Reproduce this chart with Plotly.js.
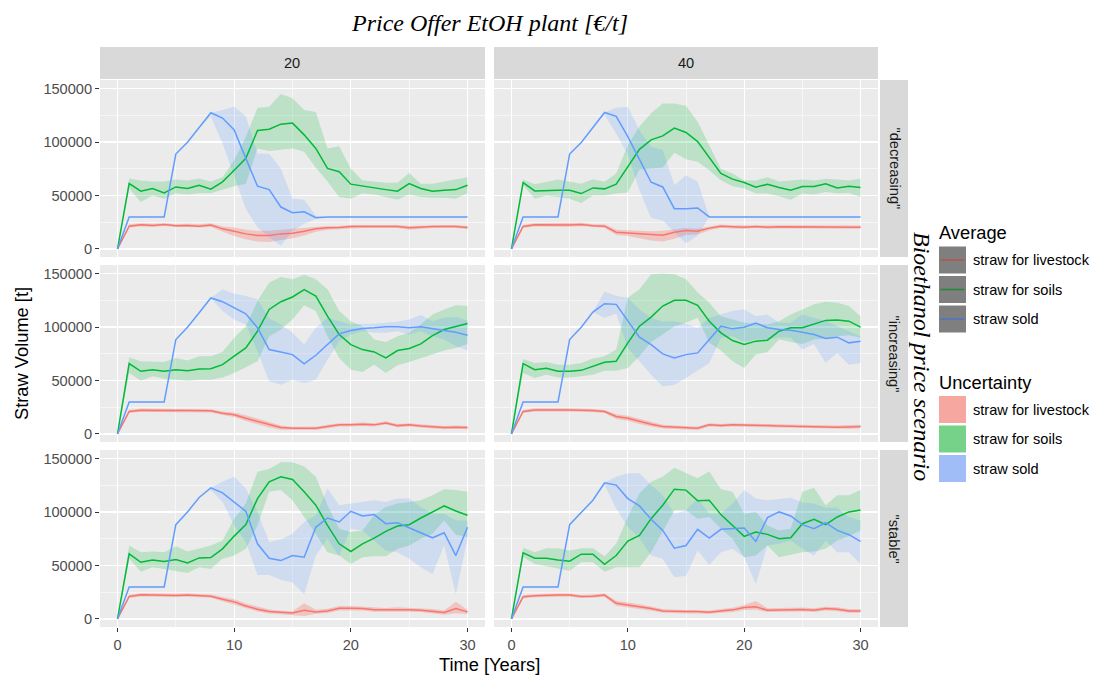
<!DOCTYPE html>
<html>
<head>
<meta charset="utf-8">
<script src="https://cdn.plot.ly/plotly-3.0.1.min.js"></script>
<style>html,body{margin:0;padding:0;background:#fff;}#chart{width:1096px;height:677px;}</style>
</head>
<body>
<div id="chart"></div>
<script>
// ---------------- DATA ----------------
const years = [0,1,2,3,4,5,6,7,8,9,10,11,12,13,14,15,16,17,18,19,20,21,22,23,24,25,26,27,28,29,30];
const priceOffers = ["20", "40"];
const scenarios = ['"decreasing"', '"increasing"', '"stable"'];
const seriesNames = ["straw for livestock", "straw for soils", "straw sold"];
const yTicks = [0, 50000, 100000, 150000];
const xTicks = [0, 10, 20, 30];

// decreasing / 20
const dec20_live    = [0,21300,22600,22000,22900,21700,22000,21300,22300,18800,16600,14100,12600,12600,14100,14700,16600,18800,19800,20000,21000,21000,21000,21000,21000,19800,20700,21000,21000,21000,20000];
const dec20_live_hi = [0,23000,24000,23500,24000,23000,23500,23000,24000,21000,20000,18000,17000,17000,18000,19000,19500,21000,21500,21500,22500,22500,22500,22500,22500,21500,22000,22500,22500,22500,21500];
const dec20_live_lo = [0,20000,21000,20500,21500,20500,20500,20000,20500,16000,12000,9000,7000,6500,8000,10000,12500,16000,18000,18500,19500,19500,19500,19500,19500,18000,19000,19500,19500,19500,18500];
const dec20_soil    = [0,61200,54000,56500,52400,58000,56500,59600,55900,62800,73700,84700,110800,112000,116700,117700,106700,94000,75300,72200,60600,58700,57100,55500,54000,61200,56500,54000,55000,55500,59600];
const dec20_soil_hi = [0,66000,64000,63000,63000,65000,64000,66000,63000,67000,83000,105000,132000,133000,145000,141000,130000,128000,94000,96000,75000,64000,63000,62000,62000,71000,61000,61000,63000,65000,67000];
const dec20_soil_lo = [0,56500,44000,50000,47000,52000,51000,52000,52000,55500,58700,61000,94000,91600,92600,94000,91000,76000,63000,48600,47000,52000,51000,48600,46000,51000,48600,48000,48000,47000,52000];
const dec20_sold    = [0,30000,30000,30000,30000,88800,99800,113600,127400,122400,111400,84700,58700,55500,39200,33900,34800,29200,30000,30000,30000,30000,30000,30000,30000,30000,30000,30000,30000,30000,30000];
const dec20_sold_hi = [0,30000,30000,30000,30000,88800,99800,113600,127400,130000,133000,124000,89000,89000,75000,47000,46000,31000,30000,30000,30000,30000,30000,30000,30000,30000,30000,30000,30000,30000,30000];
const dec20_sold_lo = [0,30000,30000,30000,30000,88800,99800,113600,124000,98800,67500,37700,20400,11000,3000,17000,23500,28000,30000,30000,30000,30000,30000,30000,30000,30000,30000,30000,30000,30000,30000];

// decreasing / 40
const dec40_live    = [0,21000,22600,22300,22300,22300,22900,21700,21300,15700,15000,14100,13200,12900,15700,17300,16600,19500,21300,20700,20400,21000,20400,20700,20700,20700,20700,20700,20700,20700,20400];
const dec40_live_hi = [0,22500,24000,24000,23800,23800,24500,23200,23000,18000,17500,17000,16500,17000,18500,19500,19000,21000,22800,22200,22000,22500,22000,22200,22200,22200,22200,22500,22200,22200,22000];
const dec40_live_lo = [0,19500,21000,20800,20800,20800,21300,20200,19800,13000,12000,10000,8000,7000,9500,13000,13500,17500,19800,19200,18800,19500,18800,19200,19200,19200,19200,19000,19200,19200,18800];
const dec40_soil    = [0,62100,54300,54900,54900,54900,51800,57100,56200,60600,76900,93200,102000,105700,113000,108900,100400,85700,70600,65300,62100,57700,60600,57400,54900,58400,58400,60900,57100,58700,57400];
const dec40_soil_hi = [0,65000,60600,62800,65000,62800,61000,65300,62800,70600,97000,114500,127000,136000,136000,134000,119000,97000,75000,70600,64000,64000,67000,63000,64000,65000,64000,65600,65000,64000,66000];
const dec40_soil_lo = [0,59600,47000,50000,48600,47000,43000,50000,50000,51800,52700,74400,75300,76200,90000,83800,81600,73700,64300,58700,56500,51800,51800,49300,46000,51800,51000,53300,51800,52400,48600];
const dec40_sold    = [0,30000,30000,30000,30000,88800,99500,113600,127700,124000,105000,83800,62400,58000,37700,37700,38300,30000,30000,30000,30000,30000,30000,30000,30000,30000,30000,30000,30000,30000,30000];
const dec40_sold_hi = [0,30000,30000,30000,30000,88800,99500,113600,127700,132000,133000,111000,95700,92600,59600,69000,62800,30000,30000,30000,30000,30000,30000,30000,30000,30000,30000,30000,30000,30000,30000];
const dec40_sold_lo = [0,30000,30000,30000,30000,88800,99500,113600,125500,108000,88000,55000,29000,26700,15700,5300,12600,30000,30000,30000,30000,30000,30000,30000,30000,30000,30000,30000,30000,30000,30000];

// increasing / 20
const inc20_live    = [0,21000,22200,21900,22200,21900,21900,21600,21600,19400,17900,14700,11600,8500,6000,5300,5000,5300,6900,8500,8500,9100,8500,10300,7800,8500,7500,6600,6000,6300,6000];
const inc20_live_hi = [0,22500,23700,23400,23700,23400,23400,23100,23100,21000,20000,17500,14500,11000,8000,6800,6500,6800,8500,10000,10000,10700,10000,11800,9300,10000,9000,8100,7500,7800,7500];
const inc20_live_lo = [0,19500,20700,20400,20700,20400,20400,20100,20100,17800,15800,12000,8700,6000,4000,3800,3500,3800,5300,7000,7000,7500,7000,8800,6300,7000,6000,5100,4500,4800,4500];
const inc20_soil    = [0,65800,58600,60100,58600,60100,59200,60800,61100,64800,72700,80500,96100,116500,123700,128100,135000,129000,110200,93000,83600,78900,76700,71100,78000,79900,84200,92000,97700,100800,103300];
const inc20_soil_hi = [0,71700,68000,68000,67300,71000,68600,72700,72700,76700,89900,100800,124300,141600,146900,144700,148800,144700,135300,114900,105500,100800,88300,86100,91400,94600,102400,111800,116500,120300,119600];
const inc20_soil_lo = [0,57000,49800,53900,51700,50700,49800,50700,50700,52900,57000,62300,68000,91400,97700,107100,120300,114900,91400,71100,60100,57900,64800,57000,64200,67300,71100,74200,78000,80500,84200];
const inc20_sold    = [0,30000,30000,30000,30000,88300,99900,113400,127200,123700,118100,112400,99300,78900,76700,74200,65500,73600,83600,93600,96800,98700,99300,100200,100200,99300,100200,98300,96800,95200,92400];
const inc20_sold_hi = [0,30000,30000,30000,30000,88300,99900,113400,127200,135300,131200,129000,125900,108000,102400,94600,83600,99300,108700,105500,102400,103000,103000,104000,104900,107100,111200,105500,108700,109300,106200];
const inc20_sold_lo = [0,30000,30000,30000,30000,88300,99900,113400,127200,115000,107100,102400,77400,49200,46000,50700,47600,50700,69500,86800,93000,96100,94600,94600,96100,93000,96100,91400,88300,82100,78000];

// increasing / 40
const inc40_live    = [0,21000,22500,22200,22500,22500,22500,21900,21000,16300,14700,11600,9100,6900,6300,6000,5300,8500,7800,8500,8500,7800,7800,7500,7200,7500,7200,6600,6300,6600,6900];
const inc40_live_hi = [0,22500,24000,23700,24000,24000,24000,23400,22500,18500,17000,14000,11200,8700,8000,7600,6900,10000,9300,10000,10000,9300,9300,9000,8700,9000,8700,8100,7800,8400,8700];
const inc40_live_lo = [0,19500,21000,20700,21000,21000,21000,20400,19500,14000,12300,9200,7000,5100,4600,4400,3700,7000,6300,7000,7000,6300,6300,6000,5700,6000,5700,5100,4800,4800,5100];
const inc40_soil    = [0,65800,60100,61400,58600,58600,59500,63300,67000,68000,85200,100800,109300,119600,125000,125000,120300,105500,94600,87400,83600,86800,87700,96100,99300,99300,102400,106200,106500,105500,99900];
const inc40_soil_hi = [0,70200,66400,67300,64800,64800,66400,70500,72700,78900,127500,135300,149400,150000,149400,144700,132200,122800,110200,107100,104000,103000,102400,105500,111800,116500,121200,123700,122800,119600,110200];
const inc40_soil_lo = [0,57000,52300,55400,52900,52900,53900,55400,59200,59200,61700,72700,86100,93000,100800,104000,108700,85200,78000,68000,61700,74200,76700,88300,86100,84200,88300,89300,91400,92400,89900];
const inc40_sold    = [0,30000,30000,30000,30000,88300,99900,114000,121800,121200,105500,90500,83600,74900,71100,74200,75800,88300,100800,98300,99900,103700,99300,97700,97100,95200,93000,89300,90500,85200,86800];
const inc40_sold_hi = [0,30000,30000,30000,30000,88300,99900,114000,133000,129000,127500,116500,108700,104900,105500,103000,99300,108700,111800,114900,116500,110200,111800,104000,104000,111800,108700,105500,100800,96100,91400];
const inc40_sold_lo = [0,30000,30000,30000,30000,88300,99900,114000,108700,112400,80500,68000,55400,44500,46000,52300,59200,66400,89900,91400,86100,88300,88300,90500,89900,78900,84200,66700,75800,64800,66400];

// stable / 20
const sta20_live    = [0,21000,22600,22300,22300,22000,22300,21700,21300,18500,16000,12200,9100,6900,6000,5600,8200,6600,7500,10000,10000,9700,8500,8500,9100,8500,8200,7200,6000,9700,6600];
const sta20_live_hi = [0,22500,24100,23800,23800,23500,23800,23200,22800,20500,18500,14500,11500,8800,7700,7200,14700,8500,9500,12000,12000,11500,10300,10300,10900,10300,10000,9200,8000,16000,8500];
const sta20_live_lo = [0,19500,21100,20800,20800,20500,20800,20200,19800,16500,13500,9800,7000,5200,4300,4000,2800,4800,5500,8000,8000,7900,6700,6700,7300,6700,6400,5200,4000,5300,4700];
const sta20_soil    = [0,60900,53000,55200,53700,55500,52400,57100,57400,65600,77500,88200,112600,128300,133000,130500,118900,106400,87500,70300,63100,70300,75600,81900,86900,88200,94400,100100,105700,101000,97000];
const sta20_soil_hi = [0,68700,62400,63100,62400,68100,63100,66200,68700,73400,93800,107900,137700,140300,146500,146500,142500,133000,106400,84400,81300,82800,97000,104800,107900,109500,111100,115800,121400,120500,118900];
const sta20_soil_lo = [0,56200,44200,48300,46800,45200,43000,48300,46800,56200,59300,65600,87500,118900,120500,111100,95400,79700,62400,59300,51500,57700,58700,58700,65600,68700,75000,79700,92200,78800,76600];
const sta20_sold    = [0,30000,30000,30000,30000,88200,100100,113600,122700,118000,109500,100700,70300,56800,54600,59300,57700,85700,94400,90700,100700,96300,97600,89100,90000,85300,80300,75900,80600,59300,85700];
const sta20_sold_hi = [0,30000,30000,30000,30000,88200,100100,113600,122700,128300,133000,122000,100100,71900,74400,79700,90700,97000,122000,106400,107900,108900,111100,109500,112600,112600,104800,98500,98500,92200,92200];
const sta20_sold_lo = [0,30000,30000,30000,30000,88200,100100,113600,120500,109500,87500,71900,41100,41100,36700,34200,23200,59300,75000,58700,84400,82800,73400,64000,62400,56200,48300,42000,68700,23200,75600];

// stable / 40
const sta40_live    = [0,20700,21700,22300,22300,22300,21000,21300,22300,14700,13200,11600,9700,7500,6900,6900,6900,6300,7500,8500,10700,11300,8200,8500,9100,8800,8200,9700,9100,7500,7500];
const sta40_live_hi = [0,22200,23200,23800,23800,23800,22500,22800,23800,17000,15500,13700,11700,9300,8600,8600,8600,8000,9300,10500,13000,16900,10000,10300,10900,10600,10000,11500,10900,9300,9300];
const sta40_live_lo = [0,19200,20200,20800,20800,20800,19500,19800,20800,12400,10900,9500,7700,5700,5200,5200,5200,4600,5700,6500,8400,8500,6400,6700,7300,7000,6400,7900,7300,5700,5700];
const sta40_soil    = [0,61800,56800,56800,55200,54000,60600,60600,51100,59300,72800,78100,93800,106400,121400,120500,110500,111100,97600,87500,77200,81300,79100,75000,75900,89100,93200,88200,95400,100100,102000];
const sta40_soil_hi = [0,66500,62400,66200,66200,64000,66200,66200,58700,70300,95400,117400,128300,133000,141500,136200,131500,138100,121400,118900,98500,100100,87500,82800,84400,118900,122700,106400,115800,115800,120500];
const sta40_soil_lo = [0,57700,51500,49300,46800,45200,53000,53000,44200,48300,48300,48300,62400,82800,101700,101700,93800,95400,84400,75000,57700,59300,68700,57700,59900,62400,63100,65600,73400,77500,82800];
const sta40_sold    = [0,30000,30000,30000,30000,88200,99500,111100,127400,125200,112600,105700,93200,82800,66200,68700,83800,75600,83800,84400,85000,72500,94800,100100,96300,88200,84400,90000,82800,78800,72500];
const sta40_sold_hi = [0,30000,30000,30000,30000,88200,99500,111100,127400,133000,136200,136200,125200,115800,98500,101700,112600,98500,98500,107900,120500,112600,111100,112000,113300,108900,107900,103900,103900,95400,92200];
const sta40_sold_lo = [0,30000,30000,30000,30000,88200,99500,111100,125200,103200,86000,75600,59300,56200,38900,40500,64000,50500,62400,65600,57700,32600,68700,70300,73400,65600,59300,73400,62400,62400,51500];

// ---------------- STYLE / LAYOUT ----------------
const W = 1096, H = 677;
const lineColors = ["#F8766D", "#00BA38", "#619CFF"];
const ribbonColors = ["rgba(248,118,109,0.33)", "rgba(0,186,56,0.2)", "rgba(97,156,255,0.2)"];
const keyLineColors = ["#B4564F", "#1E8A3A", "#4E74C4"];
const keyFillColors = ["#F5A7A0", "#77D289", "#A0BDF7"];
const colPx = [[100, 485], [494, 878]];
const rowPx = [[80, 257], [265, 442], [450, 627]];
const px = x => x / W;
const py = y => 1 - y / H;
const SANS = "Liberation Sans, Arial, Helvetica, sans-serif";
const SERIF = "Liberation Serif, Times New Roman, serif";

const panels = [
  [[dec20_live_lo, dec20_live, dec20_live_hi], [dec20_soil_lo, dec20_soil, dec20_soil_hi], [dec20_sold_lo, dec20_sold, dec20_sold_hi]],
  [[dec40_live_lo, dec40_live, dec40_live_hi], [dec40_soil_lo, dec40_soil, dec40_soil_hi], [dec40_sold_lo, dec40_sold, dec40_sold_hi]],
  [[inc20_live_lo, inc20_live, inc20_live_hi], [inc20_soil_lo, inc20_soil, inc20_soil_hi], [inc20_sold_lo, inc20_sold, inc20_sold_hi]],
  [[inc40_live_lo, inc40_live, inc40_live_hi], [inc40_soil_lo, inc40_soil, inc40_soil_hi], [inc40_sold_lo, inc40_sold, inc40_sold_hi]],
  [[sta20_live_lo, sta20_live, sta20_live_hi], [sta20_soil_lo, sta20_soil, sta20_soil_hi], [sta20_sold_lo, sta20_sold, sta20_sold_hi]],
  [[sta40_live_lo, sta40_live, sta40_live_hi], [sta40_soil_lo, sta40_soil, sta40_soil_hi], [sta40_sold_lo, sta40_sold, sta40_sold_hi]]
];

const traces = [];
const layout = {
  width: W, height: H,
  margin: {l: 0, r: 0, t: 0, b: 0},
  paper_bgcolor: "#FFFFFF",
  plot_bgcolor: "#EBEBEB",
  showlegend: false,
  hovermode: false,
  shapes: [],
  annotations: []
};

panels.forEach((panel, i) => {
  const r = Math.floor(i / 2), c = i % 2;
  const n = i + 1;
  const xa = "x" + (n === 1 ? "" : n), ya = "y" + (n === 1 ? "" : n);
  // ribbons
  panel.forEach((s, k) => {
    traces.push({x: years, y: s[0], xaxis: xa, yaxis: ya, type: "scatter", mode: "lines",
      line: {width: 0, color: "rgba(0,0,0,0)"}, hoverinfo: "skip", showlegend: false});
    traces.push({x: years, y: s[2], xaxis: xa, yaxis: ya, type: "scatter", mode: "lines",
      line: {width: 0, color: "rgba(0,0,0,0)"}, fill: "tonexty", fillcolor: ribbonColors[k],
      hoverinfo: "skip", showlegend: false, name: seriesNames[k]});
  });
  // average lines
  panel.forEach((s, k) => {
    traces.push({x: years, y: s[1], xaxis: xa, yaxis: ya, type: "scatter", mode: "lines",
      line: {width: 1.5, color: lineColors[k]}, name: seriesNames[k], showlegend: false});
  });
  const bottom = r === 2, left = c === 0;
  layout["xaxis" + (n === 1 ? "" : n)] = {
    domain: [px(colPx[c][0]), px(colPx[c][1])], anchor: ya,
    range: [-1.5, 31.5], tickvals: xTicks, showticklabels: bottom,
    ticks: bottom ? "outside" : "", ticklen: 4, tickwidth: 1, tickcolor: "#333333",
    tickfont: {family: SANS, size: 14.6, color: "#4D4D4D"},
    showgrid: true, gridcolor: "#FFFFFF", gridwidth: 1.2,
    minor: {dtick: 5, tick0: 0, showgrid: true, gridcolor: "#FFFFFF", gridwidth: 0.55},
    zeroline: false, showline: false, fixedrange: true
  };
  layout["yaxis" + (n === 1 ? "" : n)] = {
    domain: [py(rowPx[r][1]), py(rowPx[r][0])], anchor: xa,
    range: [-7525, 158025], tickvals: yTicks, tickformat: "d", showticklabels: left,
    ticks: left ? "outside" : "", ticklen: 4, tickwidth: 1, tickcolor: "#333333",
    tickfont: {family: SANS, size: 14.6, color: "#4D4D4D"},
    showgrid: true, gridcolor: "#FFFFFF", gridwidth: 1.2,
    minor: {dtick: 25000, tick0: 0, showgrid: true, gridcolor: "#FFFFFF", gridwidth: 0.55},
    zeroline: false, showline: false, fixedrange: true
  };
});

// facet strips (top)
priceOffers.forEach((lab, c) => {
  layout.shapes.push({type: "rect", xref: "paper", yref: "paper", layer: "below",
    x0: px(colPx[c][0]), x1: px(colPx[c][1]), y0: py(79), y1: py(47),
    fillcolor: "#D9D9D9", line: {width: 0}});
  layout.annotations.push({xref: "paper", yref: "paper", x: px((colPx[c][0] + colPx[c][1]) / 2), y: py(63),
    text: lab, showarrow: false, xanchor: "center", yanchor: "middle",
    font: {family: SANS, size: 14.6, color: "#1A1A1A"}});
});
// facet strips (right)
scenarios.forEach((lab, r) => {
  layout.shapes.push({type: "rect", xref: "paper", yref: "paper", layer: "below",
    x0: px(880), x1: px(908), y0: py(rowPx[r][1]), y1: py(rowPx[r][0]),
    fillcolor: "#D9D9D9", line: {width: 0}});
  layout.annotations.push({xref: "paper", yref: "paper", x: px(894), y: py((rowPx[r][0] + rowPx[r][1]) / 2),
    text: lab, showarrow: false, xanchor: "center", yanchor: "middle", textangle: 90,
    font: {family: SANS, size: 14.6, color: "#1A1A1A"}});
});

// titles
layout.annotations.push({xref: "paper", yref: "paper", x: px(489), y: py(23), showarrow: false,
  text: "<i>Price Offer EtOH plant [€/t]</i>", xanchor: "center", yanchor: "middle",
  font: {family: SERIF, size: 24, color: "#000000"}});
layout.annotations.push({xref: "paper", yref: "paper", x: px(489), y: py(664), showarrow: false,
  text: "Time [Years]", xanchor: "center", yanchor: "middle",
  font: {family: SANS, size: 18.3, color: "#000000"}});
layout.annotations.push({xref: "paper", yref: "paper", x: px(21), y: py(354), showarrow: false,
  text: "Straw Volume [t]", xanchor: "center", yanchor: "middle", textangle: -90,
  font: {family: SANS, size: 18.3, color: "#000000"}});
layout.annotations.push({xref: "paper", yref: "paper", x: px(922), y: py(356), showarrow: false,
  text: "<i>Bioethanol price scenario</i>", xanchor: "center", yanchor: "middle", textangle: 90,
  font: {family: SERIF, size: 24, color: "#000000"}});

// legends (drawn as keys)
const legendTitles = [["Average", 232], ["Uncertainty", 382]];
const avgRows = [[246.5, 273.5], [276, 303], [305.5, 332.5]];
const uncRows = [[396, 423], [425.5, 452.5], [455, 482]];
legendTitles.forEach(t => {
  layout.annotations.push({xref: "paper", yref: "paper", x: px(937), y: py(t[1]), showarrow: false,
    text: t[0], xanchor: "left", yanchor: "middle", font: {family: SANS, size: 18.3, color: "#000000"}});
});
seriesNames.forEach((nm, k) => {
  const a = avgRows[k], u = uncRows[k];
  layout.shapes.push({type: "rect", xref: "paper", yref: "paper", x0: px(939), x1: px(966),
    y0: py(a[1]), y1: py(a[0]), fillcolor: "#7F7F7F", line: {width: 0}});
  layout.shapes.push({type: "line", xref: "paper", yref: "paper", x0: px(940.5), x1: px(964.5),
    y0: py((a[0] + a[1]) / 2), y1: py((a[0] + a[1]) / 2), line: {width: 1.6, color: keyLineColors[k]}});
  layout.shapes.push({type: "rect", xref: "paper", yref: "paper", x0: px(939), x1: px(966),
    y0: py(u[1]), y1: py(u[0]), fillcolor: keyFillColors[k], line: {width: 0}});
  layout.annotations.push({xref: "paper", yref: "paper", x: px(971), y: py((a[0] + a[1]) / 2), showarrow: false,
    text: nm, xanchor: "left", yanchor: "middle", font: {family: SANS, size: 14.6, color: "#000000"}});
  layout.annotations.push({xref: "paper", yref: "paper", x: px(971), y: py((u[0] + u[1]) / 2), showarrow: false,
    text: nm, xanchor: "left", yanchor: "middle", font: {family: SANS, size: 14.6, color: "#000000"}});
});

Plotly.newPlot("chart", traces, layout, {displayModeBar: false, staticPlot: true});
</script>
</body>
</html>
